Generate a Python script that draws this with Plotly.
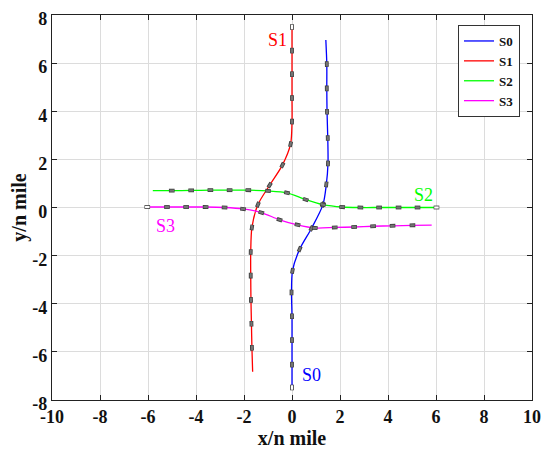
# Four ship tracks (S0-S3) crossing near the origin, with position marks along each track

import numpy as np
import plotly.graph_objects as go

# Track points (n mile); first point = start, last point = end of track
s0_x = [0.0, 0.0, 0.0, 0.0, -0.02, 0.02, 0.32, 0.81, 1.29, 1.43, 1.50, 1.49, 1.46, 1.45, 1.45, 1.41]
s0_y = [-7.48, -6.53, -5.51, -4.52, -3.53, -2.63, -1.73, -0.87, 0.12, 0.96, 1.83, 2.89, 3.98, 4.95, 5.96, 6.96]

s1_x = [0.0, 0.0, 0.0, 0.0, 0.0, -0.06, -0.40, -0.93, -1.42, -1.67, -1.72, -1.72, -1.71, -1.69, -1.67, -1.64]
s1_y = [7.50, 6.52, 5.54, 4.55, 3.57, 2.63, 1.76, 0.93, 0.12, -0.83, -1.85, -2.83, -3.84, -4.83, -5.83, -6.83]

s2_x = [6.02, 5.23, 4.44, 3.63, 2.85, 2.09, 1.29, 0.57, -0.21, -1.00, -1.82, -2.60, -3.40, -4.20, -5.01, -5.80]
s2_y = [0.0, 0.0, 0.0, 0.0, 0.0, 0.02, 0.12, 0.33, 0.61, 0.69, 0.72, 0.72, 0.72, 0.71, 0.70, 0.70]

s3_x = [-6.03, -5.21, -4.41, -3.60, -2.81, -2.04, -1.28, -0.52, 0.23, 0.95, 1.78, 2.59, 3.38, 4.19, 5.02, 5.82]
s3_y = [0.02, 0.02, 0.02, 0.02, 0.0, -0.06, -0.21, -0.51, -0.72, -0.85, -0.83, -0.81, -0.78, -0.76, -0.74, -0.73]

names = ["S0", "S1", "S2", "S3"]
colors = ["#0000FF", "#FF0000", "#00FF00", "#FF00FF"]

# Track label positions
label_x = [0.83, -0.61, 5.48, -5.26]
label_y = [-6.97, 6.96, 0.54, -0.77]

# Axis ticks (plain hyphen minus, as in the reference)
x_ticks = [-10, -8, -6, -4, -2, 0, 2, 4, 6, 8, 10]
y_ticks = [-8, -6, -4, -2, 0, 2, 4, 6, 8]

FONT = "Liberation Serif, Times New Roman, serif"

tracks = [(s0_x, s0_y), (s1_x, s1_y), (s2_x, s2_y), (s3_x, s3_y)]

fig = go.Figure()

# Track lines
for (tx, ty), name, col in zip(tracks, names, colors):
    fig.add_trace(
        go.Scatter(
            x=tx,
            y=ty,
            mode="lines",
            line=dict(color=col, width=1.3, shape="spline", smoothing=0.8),
            name=name,
        )
    )

# Ship marks: small rectangles oriented along the track (all points except the track end)
for (tx, ty), col in zip(tracks, colors):
    x = np.array(tx)
    y = np.array(ty)
    dx = np.gradient(x) * 23.97
    dy = np.gradient(y) * 24.05
    ang = np.degrees(np.arctan2(dx, dy))[:-1]
    mx = x[:-1]
    my = y[:-1]
    inner = ["#FFFFFF"] + ["rgba(128,128,128,0.85)"] * (len(mx) - 1)

    fig.add_trace(
        go.Scatter(
            x=mx, y=my, mode="markers", showlegend=False, hoverinfo="skip",
            marker=dict(symbol="line-ns", size=4, angle=ang, color="#3a3a3a",
                        line=dict(color="#3a3a3a", width=3.8)),
        )
    )
    fig.add_trace(
        go.Scatter(
            x=mx, y=my, mode="markers", showlegend=False, hoverinfo="skip",
            marker=dict(symbol="line-ns", size=3.2, angle=ang, color=inner,
                        line=dict(color=inner, width=2.2)),
        )
    )

# Track labels
for name, col, lx, ly in zip(names, colors, label_x, label_y):
    fig.add_annotation(
        x=lx, y=ly, text=name, showarrow=False,
        font=dict(family=FONT, size=18, color=col),
    )

axis_common = dict(
    showgrid=True,
    gridcolor="#dcdcdc",
    gridwidth=1,
    zeroline=False,
    showline=True,
    linecolor="#222222",
    linewidth=1.2,
    mirror="ticks",
    ticks="inside",
    ticklen=5,
    tickcolor="#222222",
    automargin=False,
    ticklabeloverflow="allow",
    tickfont=dict(family=FONT, size=18, color="#111111", weight="bold"),
)

fig.update_xaxes(
    range=[-10, 10],
    tickvals=x_ticks,
    ticktext=[str(v) for v in x_ticks],
    title=dict(text="<b>x/n mile</b>", font=dict(family=FONT, size=20, color="#111111"), standoff=4),
    **axis_common,
)
fig.update_yaxes(
    range=[-8, 8],
    tickvals=y_ticks,
    ticktext=[str(v) for v in y_ticks],
    ticklabelshift=4,
    title=dict(text="<b>y/n mile</b>", font=dict(family=FONT, size=20, color="#111111"), standoff=4),
    **axis_common,
)

# The page adds an 8px body margin, so the figure is sized to fit inside the window
fig.update_layout(
    width=542,
    height=446,
    margin=dict(l=44, r=18, t=7, b=54),
    paper_bgcolor="white",
    plot_bgcolor="white",
    showlegend=True,
    legend=dict(
        x=0.975, y=0.974, xanchor="right", yanchor="top",
        bgcolor="white", bordercolor="#333333", borderwidth=1,
        font=dict(family=FONT, size=13, color="#111111", weight="bold"),
        itemwidth=30, tracegroupgap=0,
    ),
)

fig.write_html("out.html")
